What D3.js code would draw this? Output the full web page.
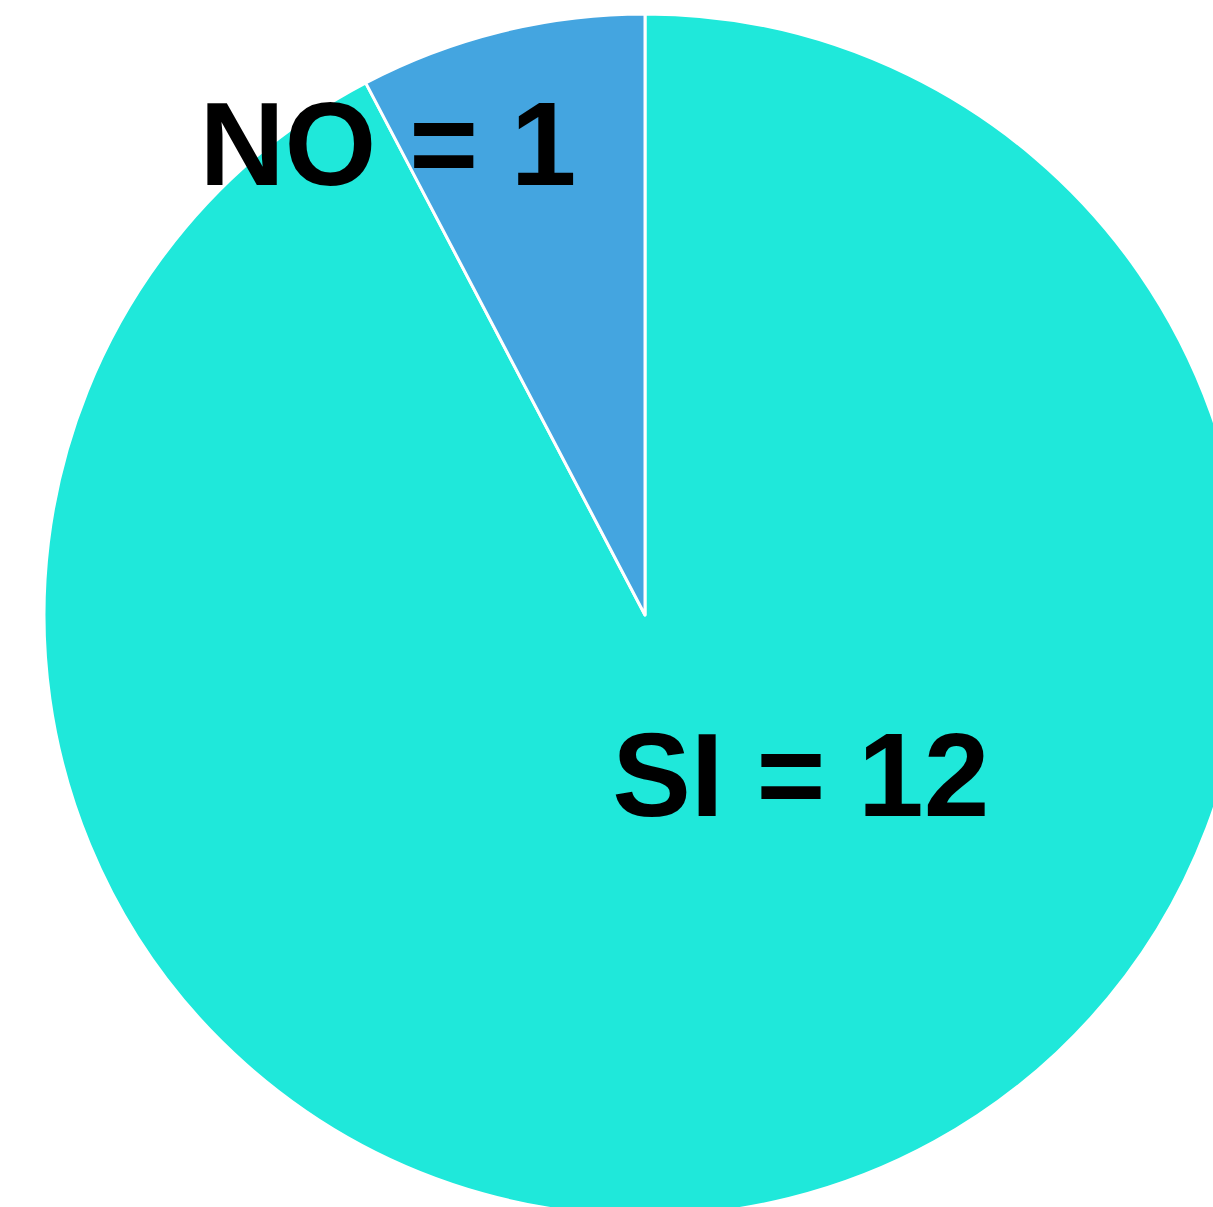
<!DOCTYPE html>
<html>
<head>
<meta charset="utf-8">
<script src="https://cdn.jsdelivr.net/npm/d3@7"></script>
<style>
  html, body { margin: 0; padding: 0; background: #fff; overflow: hidden; }
</style>
</head>
<body>
<div class="container_chart"></div>
<script>
const categories = ["SI", "NO"];
const values = [12, 1];
const colors = ["#1fe8da", "#44a5e0"];

const width = 1213;
const height = 1207;
const cx = 645;
const cy = 615;
const radius = 601;

// label placement (polar, degrees clockwise from top) tuned by eye
const labelPos = { SI: { angle: 135.7, r: 223 }, NO: { angle: -28.6, r: 537 } };

const svg = d3
  .select(".container_chart")
  .append("svg")
  .attr("width", width)
  .attr("height", height);

const g = svg.append("g").attr("transform", `translate(${cx},${cy})`);

const data = categories.map((c, i) => ({ name: c, value: values[i], color: colors[i] }));

const pie = d3
  .pie()
  .value((d) => d.value)
  .sort(null)
  .startAngle(0)
  .endAngle(2 * Math.PI);

const arc = d3.arc().innerRadius(0).outerRadius(radius);

g.selectAll("path")
  .data(pie(data))
  .enter()
  .append("path")
  .attr("d", arc)
  .attr("fill", (d) => d.data.color)
  .attr("stroke", "#fff")
  .attr("stroke-width", 3)
  .attr("stroke-linejoin", "round");

g.selectAll("text")
  .data(data)
  .enter()
  .append("text")
  .attr("x", (d) => labelPos[d.name].r * Math.sin((labelPos[d.name].angle * Math.PI) / 180))
  .attr("y", (d) => -labelPos[d.name].r * Math.cos((labelPos[d.name].angle * Math.PI) / 180))
  .attr("text-anchor", "middle")
  .attr("dominant-baseline", "central")
  .attr("font-family", "Liberation Sans, Arial, sans-serif")
  .attr("font-weight", "bold")
  .attr("font-size", 118)
  .attr("fill", "#000")
  .text((d) => `${d.name} = ${d.value}`);
</script>
</body>
</html>
